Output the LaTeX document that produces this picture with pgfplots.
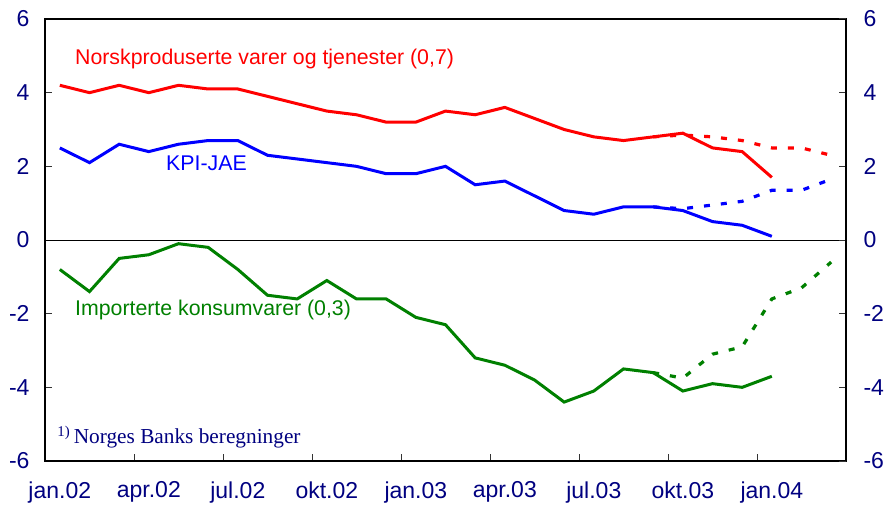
\documentclass[border=0pt]{standalone}
\usepackage{fontspec}
\setmainfont{Liberation Sans}
\newfontfamily\timesfont{Liberation Serif}
\usepackage{pgfplots}
\pgfplotsset{compat=1.18}
\usetikzlibrary{calc}
\definecolor{navy}{HTML}{000080}
\definecolor{kgreen}{HTML}{008000}

% month index 0 = jan.02
\newcommand{\ticklbl}{\fontsize{23bp}{27bp}\selectfont}
\newcommand{\seriesfont}{\fontsize{21.3bp}{25bp}\selectfont}

\begin{document}
\begin{tikzpicture}
\pgfplotsset{
  base/.style={
    scale only axis, width=801bp, height=442bp,
    xmin=-0.5, xmax=26.5, ymin=-6, ymax=6,
    ytick={-6,-4,...,6},
    yticklabels={-6,-4,-2,0,2,4,6},
    yticklabel style={font=\ticklbl, text=navy},
    tick align=inside,
    major tick length=7bp,
    tick style={black!80, line width=1bp},
  },
}
\begin{axis}[base,
  axis line style={black, line width=1.4bp},
  ytick pos=left, yticklabel pos=left,
  yticklabel style={xshift=-12bp},
  xtick={0,3,...,24},
  xticklabels={jan.02,apr.02,jul.02,okt.02,jan.03,apr.03,jul.03,okt.03,jan.04},
  xticklabel style={font=\ticklbl, text=navy, yshift=-17bp},
  major x tick style={draw=none},
  minor xtick={2.5,5.5,...,23.5},
  minor tick length=7bp,
  minor x tick style={black!80, line width=1bp},
  xtick pos=bottom,
  clip=false,
]
\addplot[black, line width=1bp] coordinates {(-0.5,0) (26.5,0)};

% Norskproduserte varer og tjenester
\addplot[red, line width=3bp] coordinates {
  (0,4.2)(1,4.0)(2,4.2)(3,4.0)(4,4.2)(5,4.1)(6,4.1)(7,3.9)(8,3.7)(9,3.5)
  (10,3.4)(11,3.2)(12,3.2)(13,3.5)(14,3.4)(15,3.6)(16,3.3)(17,3.0)(18,2.8)
  (19,2.7)(20,2.8)(21,2.9)(22,2.5)(23,2.4)(24,1.7)};
\addplot[red, line width=3.2bp, dash pattern=on 6bp off 11bp] coordinates {
  (20,2.8)(21,2.85)(22,2.8)(23,2.7)(24,2.5)(25,2.5)(26,2.3)};

% KPI-JAE
\addplot[blue, line width=3bp] coordinates {
  (0,2.5)(1,2.1)(2,2.6)(3,2.4)(4,2.6)(5,2.7)(6,2.7)(7,2.3)(8,2.2)(9,2.1)
  (10,2.0)(11,1.8)(12,1.8)(13,2.0)(14,1.5)(15,1.6)(16,1.2)(17,0.8)(18,0.7)
  (19,0.9)(20,0.9)(21,0.8)(22,0.5)(23,0.4)(24,0.1)};
\addplot[blue, line width=3.2bp, dash pattern=on 6bp off 11bp] coordinates {
  (20,0.9)(21,0.85)(22,0.95)(23,1.05)(24,1.35)(25,1.35)(26,1.65)};

% Importerte konsumvarer
\addplot[kgreen, line width=3bp] coordinates {
  (0,-0.8)(1,-1.4)(2,-0.5)(3,-0.4)(4,-0.1)(5,-0.2)(6,-0.8)(7,-1.5)(8,-1.6)
  (9,-1.1)(10,-1.6)(11,-1.6)(12,-2.1)(13,-2.3)(14,-3.2)(15,-3.4)(16,-3.8)
  (17,-4.4)(18,-4.1)(19,-3.5)(20,-3.6)(21,-4.1)(22,-3.9)(23,-4.0)(24,-3.7)};
\addplot[kgreen, line width=3.2bp, dash pattern=on 6bp off 11bp] coordinates {
  (20,-3.6)(21,-3.75)(22,-3.1)(23,-2.9)(24,-1.6)(25,-1.3)(26,-0.6)};

\node[anchor=west, inner sep=0, text=red, font=\seriesfont] at (axis cs:0.51,4.91)
  {Norskproduserte varer og tjenester (0,7)};
\node[anchor=west, inner sep=0, text=blue, font=\seriesfont] at (axis cs:3.58,2.09)
  {KPI-JAE};
\node[anchor=west, inner sep=0, text=kgreen, font=\seriesfont] at (axis cs:0.51,-1.90)
  {Importerte konsumvarer (0,3)};
\node[anchor=west, inner sep=0, text=navy, font=\timesfont\seriesfont] at (axis cs:-0.09,-5.35)
  {\textsuperscript{1)}\,Norges Banks beregninger};
\end{axis}

\begin{axis}[base,
  axis x line=none,
  axis y line*=right,
  axis line style={black, line width=1.4bp},
  yticklabel pos=right,
  yticklabel style={xshift=14bp},
]
\end{axis}

\pgfresetboundingbox
\path[use as bounding box] ($(current axis.south west)+(-45bp,-46bp)$)
  rectangle ($(current axis.north east)+(41bp,19bp)$);
\end{tikzpicture}
\end{document}
